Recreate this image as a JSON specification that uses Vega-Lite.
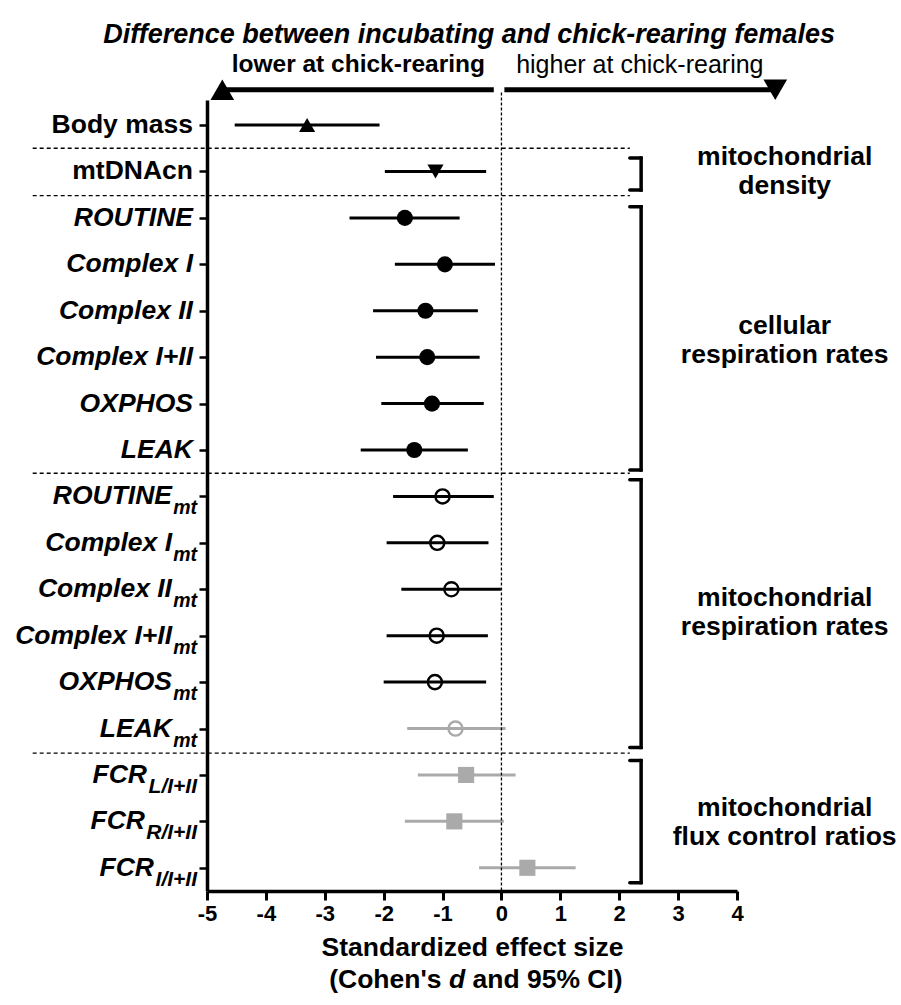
{
  "$schema": "https://vega.github.io/schema/vega-lite/v6.json",
  "width": 530,
  "height": 791,
  "autosize": "none",
  "padding": {"left": 207, "top": 100, "right": 164, "bottom": 114},
  "background": "white",
  "config": {"view": {"stroke": null}, "axis": {"grid": false}, "text": {"font": "Liberation Sans"}},
  "datasets": {
    "rows": [
      {"i": 0, "label": "Body mass", "sub": "", "type": "body", "sig": "yes", "d": -3.30, "lo": -4.53, "hi": -2.07},
      {"i": 1, "label": "mtDNAcn", "sub": "", "type": "density", "sig": "yes", "d": -1.12, "lo": -1.98, "hi": -0.26},
      {"i": 2, "label": "ROUTINE", "sub": "", "type": "cellular", "sig": "yes", "d": -1.64, "lo": -2.58, "hi": -0.71},
      {"i": 3, "label": "Complex I", "sub": "", "type": "cellular", "sig": "yes", "d": -0.96, "lo": -1.81, "hi": -0.11},
      {"i": 4, "label": "Complex II", "sub": "", "type": "cellular", "sig": "yes", "d": -1.29, "lo": -2.18, "hi": -0.40},
      {"i": 5, "label": "Complex I+II", "sub": "", "type": "cellular", "sig": "yes", "d": -1.26, "lo": -2.13, "hi": -0.37},
      {"i": 6, "label": "OXPHOS", "sub": "", "type": "cellular", "sig": "yes", "d": -1.18, "lo": -2.04, "hi": -0.30},
      {"i": 7, "label": "LEAK", "sub": "", "type": "cellular", "sig": "yes", "d": -1.48, "lo": -2.39, "hi": -0.57},
      {"i": 8, "label": "ROUTINE", "sub": "mt", "type": "mito", "sig": "yes", "d": -1.00, "lo": -1.84, "hi": -0.13},
      {"i": 9, "label": "Complex I", "sub": "mt", "type": "mito", "sig": "yes", "d": -1.09, "lo": -1.95, "hi": -0.22},
      {"i": 10, "label": "Complex II", "sub": "mt", "type": "mito", "sig": "yes", "d": -0.85, "lo": -1.70, "hi": -0.01},
      {"i": 11, "label": "Complex I+II", "sub": "mt", "type": "mito", "sig": "yes", "d": -1.10, "lo": -1.95, "hi": -0.23},
      {"i": 12, "label": "OXPHOS", "sub": "mt", "type": "mito", "sig": "yes", "d": -1.13, "lo": -2.00, "hi": -0.26},
      {"i": 13, "label": "LEAK", "sub": "mt", "type": "mito", "sig": "no", "d": -0.78, "lo": -1.60, "hi": 0.07},
      {"i": 14, "label": "FCR", "sub": "L/I+II", "type": "fcr", "sig": "no", "d": -0.60, "lo": -1.42, "hi": 0.24},
      {"i": 15, "label": "FCR", "sub": "R/I+II", "type": "fcr", "sig": "no", "d": -0.80, "lo": -1.64, "hi": 0.04},
      {"i": 16, "label": "FCR", "sub": "I/I+II", "type": "fcr", "sig": "no", "d": 0.44, "lo": -0.38, "hi": 1.26}
    ],
    "groups": [
      {"group": "mitochondrial\ndensity", "from": 0.71, "to": 1.40, "labelAt": 0.69},
      {"group": "cellular\nrespiration rates", "from": 1.76, "to": 7.43, "labelAt": 4.33},
      {"group": "mitochondrial\nrespiration rates", "from": 7.64, "to": 13.41, "labelAt": 10.19},
      {"group": "mitochondrial\nflux control ratios", "from": 13.69, "to": 16.32, "labelAt": 14.71}
    ],
    "seps": [{"at": 0.5}, {"at": 1.52}, {"at": 7.5}, {"at": 13.53}],
    "arrows": [
      {"dir": "lower", "label": "lower at chick-rearing", "shaft": -0.13, "tip": -4.74},
      {"dir": "higher", "label": "higher at chick-rearing", "shaft": 0.05, "tip": 4.65}
    ],
    "one": [{}]
  },
  "layer": [
    {
      "data": {"name": "rows"},
      "mark": {"type": "rule", "strokeWidth": 3},
      "encoding": {
        "x": {
          "field": "lo", "type": "quantitative",
          "scale": {"domain": [-5, 4], "nice": false, "zero": false},
          "axis": {
            "values": [-5, -4, -3, -2, -1, 0, 1, 2, 3, 4],
            "labelExpr": "datum.value < 0 ? '-' + abs(datum.value) : '' + datum.value",
            "title": "Standardized effect size",
            "titleFont": "Liberation Sans", "titleFontSize": 26.5, "titleFontWeight": "bold", "titleColor": "black",
            "titleY": 64, "titleBaseline": "alphabetic",
            "labelFont": "Liberation Sans", "labelFontSize": 22, "labelFontWeight": "bold", "labelColor": "black",
            "labelPadding": 3, "labelFlush": false, "labelOverlap": false,
            "tickSize": 9, "tickWidth": 3, "tickColor": "black",
            "domainWidth": 3.5, "domainColor": "black", "grid": false
          }
        },
        "x2": {"field": "hi"},
        "y": {
          "field": "i", "type": "quantitative",
          "scale": {"domain": [-0.54, 16.5], "reverse": true, "nice": false, "zero": false},
          "axis": {
            "values": [0, 1, 2, 3, 4, 5, 6, 7, 8, 9, 10, 11, 12, 13, 14, 15, 16],
            "labels": false, "title": null,
            "tickSize": 8, "tickWidth": 2.5, "tickColor": "black",
            "domainWidth": 3.5, "domainColor": "black", "grid": false
          }
        },
        "color": {"field": "sig", "type": "nominal", "scale": {"domain": ["yes", "no"], "range": ["#000000", "#aaaaaa"]}, "legend": null}
      }
    },
    {
      "data": {"name": "seps"},
      "mark": {"type": "rule", "strokeWidth": 1.4, "strokeDash": [4, 3], "color": "black"},
      "encoding": {
        "x": {"datum": -7.96, "type": "quantitative"},
        "x2": {"datum": 2.18},
        "y": {"field": "at", "type": "quantitative"}
      }
    },
    {
      "data": {"name": "one"},
      "mark": {"type": "rule", "strokeWidth": 1.3, "strokeDash": [3, 2], "color": "black"},
      "encoding": {
        "x": {"datum": 0, "type": "quantitative"},
        "y": {"datum": -0.7, "type": "quantitative"},
        "y2": {"datum": 16.5}
      }
    },
    {
      "data": {"name": "rows"},
      "transform": [{"filter": "datum.type != 'mito'"}],
      "mark": {"type": "point", "filled": true, "opacity": 1},
      "encoding": {
        "x": {"field": "d", "type": "quantitative"},
        "y": {"field": "i", "type": "quantitative"},
        "shape": {"field": "type", "type": "nominal", "scale": {"domain": ["body", "density", "cellular", "fcr"], "range": ["triangle-up", "triangle-down", "circle", "square"]}, "legend": null},
        "size": {"field": "type", "type": "nominal", "scale": {"domain": ["body", "density", "cellular", "fcr"], "range": [260, 260, 250, 240]}, "legend": null},
        "color": {"field": "sig", "type": "nominal", "legend": null}
      }
    },
    {
      "data": {"name": "rows"},
      "transform": [{"filter": "datum.type == 'mito'"}],
      "mark": {"type": "point", "filled": false, "shape": "circle", "size": 200, "strokeWidth": 2.4, "opacity": 1},
      "encoding": {
        "x": {"field": "d", "type": "quantitative"},
        "y": {"field": "i", "type": "quantitative"},
        "color": {"field": "sig", "type": "nominal", "legend": null}
      }
    },
    {
      "data": {"name": "rows"},
      "transform": [{"filter": "datum.type == 'body' || datum.type == 'density'"}],
      "mark": {"type": "text", "align": "right", "baseline": "middle", "dx": -14, "font": "Liberation Sans", "fontSize": 26.5, "fontWeight": "bold", "color": "black"},
      "encoding": {
        "x": {"datum": -5, "type": "quantitative"},
        "y": {"field": "i", "type": "quantitative"},
        "text": {"field": "label"}
      }
    },
    {
      "data": {"name": "rows"},
      "transform": [{"filter": "datum.type == 'cellular'"}],
      "mark": {"type": "text", "align": "right", "baseline": "middle", "dx": -14, "font": "Liberation Sans", "fontSize": 26.5, "fontWeight": "bold", "fontStyle": "italic", "color": "black"},
      "encoding": {
        "x": {"datum": -5, "type": "quantitative"},
        "y": {"field": "i", "type": "quantitative"},
        "text": {"field": "label"}
      }
    },
    {
      "data": {"name": "rows"},
      "transform": [{"filter": "datum.type == 'mito' || datum.type == 'fcr'"}],
      "mark": {"type": "text", "align": "right", "baseline": "middle", "dx": {"expr": "datum.sub == 'mt' ? -35 : datum.sub == 'L/I+II' ? -60 : datum.sub == 'R/I+II' ? -62 : -53"}, "font": "Liberation Sans", "fontSize": 26.5, "fontWeight": "bold", "fontStyle": "italic", "color": "black"},
      "encoding": {
        "x": {"datum": -5, "type": "quantitative"},
        "y": {"field": "i", "type": "quantitative"},
        "text": {"field": "label"}
      }
    },
    {
      "data": {"name": "rows"},
      "transform": [{"filter": "datum.type == 'mito' || datum.type == 'fcr'"}],
      "mark": {"type": "text", "align": "right", "baseline": "middle", "dx": -10, "dy": 12, "font": "Liberation Sans", "fontSize": {"expr": "datum.sub == 'mt' ? 19.5 : 21"}, "fontWeight": "bold", "fontStyle": "italic", "color": "black"},
      "encoding": {
        "x": {"datum": -5, "type": "quantitative"},
        "y": {"field": "i", "type": "quantitative"},
        "text": {"field": "sub"}
      }
    },
    {
      "data": {"name": "groups"},
      "mark": {"type": "rule", "strokeWidth": 3.5, "strokeCap": "square", "color": "black"},
      "encoding": {
        "x": {"datum": 2.372, "type": "quantitative"},
        "y": {"field": "from", "type": "quantitative"},
        "y2": {"field": "to"}
      }
    },
    {
      "data": {"name": "groups"},
      "mark": {"type": "rule", "strokeWidth": 3.5, "strokeCap": "round", "color": "black"},
      "encoding": {
        "x": {"datum": 2.18, "type": "quantitative"},
        "x2": {"datum": 2.372},
        "y": {"field": "from", "type": "quantitative"}
      }
    },
    {
      "data": {"name": "groups"},
      "mark": {"type": "rule", "strokeWidth": 3.5, "strokeCap": "round", "color": "black"},
      "encoding": {
        "x": {"datum": 2.18, "type": "quantitative"},
        "x2": {"datum": 2.372},
        "y": {"field": "to", "type": "quantitative"}
      }
    },
    {
      "data": {"name": "groups"},
      "mark": {"type": "text", "align": "center", "baseline": "middle", "lineBreak": "\n", "lineHeight": 29, "font": "Liberation Sans", "fontSize": 26.5, "fontWeight": "bold", "color": "black"},
      "encoding": {
        "x": {"datum": 4.81, "type": "quantitative"},
        "y": {"field": "labelAt", "type": "quantitative"},
        "text": {"field": "group"}
      }
    },
    {
      "data": {"name": "arrows"},
      "mark": {"type": "rule", "strokeWidth": 5, "color": "black"},
      "encoding": {
        "x": {"field": "shaft", "type": "quantitative"},
        "x2": {"field": "tip"},
        "y": {"datum": -0.76, "type": "quantitative"}
      }
    },
    {
      "data": {"name": "arrows"},
      "mark": {"type": "point", "filled": true, "size": 560, "color": "black", "opacity": 1},
      "encoding": {
        "x": {"field": "tip", "type": "quantitative"},
        "y": {"datum": -0.76, "type": "quantitative"},
        "shape": {"field": "dir", "type": "nominal", "scale": {"domain": ["lower", "higher"], "range": ["M-1,0L1,-0.9L1,0.9Z", "M1,0L-1,-0.9L-1,0.9Z"]}, "legend": null}
      }
    },
    {
      "data": {"name": "arrows"},
      "transform": [{"filter": "datum.dir == 'lower'"}],
      "mark": {"type": "text", "align": "right", "baseline": "middle", "font": "Liberation Sans", "fontSize": 24.5, "fontWeight": "bold", "color": "black"},
      "encoding": {
        "x": {"datum": -0.28, "type": "quantitative"},
        "y": {"datum": -1.29, "type": "quantitative"},
        "text": {"field": "label"}
      }
    },
    {
      "data": {"name": "arrows"},
      "transform": [{"filter": "datum.dir == 'higher'"}],
      "mark": {"type": "text", "align": "left", "baseline": "middle", "font": "Liberation Sans", "fontSize": 25, "fontWeight": "normal", "color": "black"},
      "encoding": {
        "x": {"datum": 0.25, "type": "quantitative"},
        "y": {"datum": -1.29, "type": "quantitative"},
        "text": {"field": "label"}
      }
    },
    {
      "data": {"name": "one"},
      "mark": {"type": "text", "align": "center", "baseline": "middle", "font": "Liberation Sans", "fontSize": 27, "fontWeight": "bold", "fontStyle": "italic", "color": "black"},
      "encoding": {
        "x": {"datum": -0.55, "type": "quantitative"},
        "y": {"datum": -1.95, "type": "quantitative"},
        "text": {"value": "Difference between incubating and chick-rearing females"}
      }
    },
    {
      "data": {"name": "one"},
      "mark": {"type": "text", "align": "right", "baseline": "alphabetic", "dx": -15.5, "font": "Liberation Sans", "fontSize": 26.5, "fontWeight": "bold", "color": "black"},
      "encoding": {
        "x": {"datum": -0.755, "type": "quantitative"},
        "y": {"datum": 18.58, "type": "quantitative"},
        "text": {"value": "(Cohen's"}
      }
    },
    {
      "data": {"name": "one"},
      "mark": {"type": "text", "align": "center", "baseline": "alphabetic", "font": "Liberation Sans", "fontSize": 26.5, "fontWeight": "bold", "fontStyle": "italic", "color": "black"},
      "encoding": {
        "x": {"datum": -0.755, "type": "quantitative"},
        "y": {"datum": 18.58, "type": "quantitative"},
        "text": {"value": "d"}
      }
    },
    {
      "data": {"name": "one"},
      "mark": {"type": "text", "align": "left", "baseline": "alphabetic", "dx": 15.5, "font": "Liberation Sans", "fontSize": 26.5, "fontWeight": "bold", "color": "black"},
      "encoding": {
        "x": {"datum": -0.755, "type": "quantitative"},
        "y": {"datum": 18.58, "type": "quantitative"},
        "text": {"value": "and 95% CI)"}
      }
    }
  ]
}
